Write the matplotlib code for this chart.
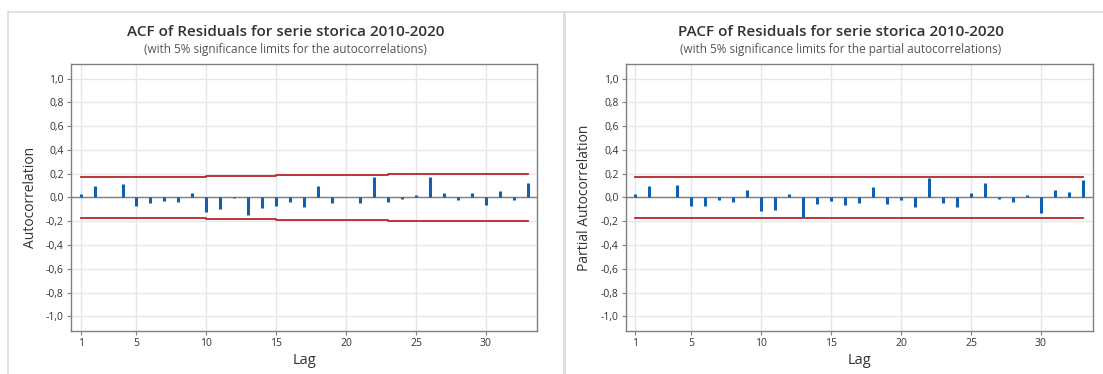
import matplotlib.pyplot as plt
from matplotlib.lines import Line2D
from matplotlib.ticker import FuncFormatter

lags = list(range(1, 34))
acf_vals = [0.03, 0.10, 0.008, 0.115, -0.07, -0.05, -0.03, -0.04, 0.04, -0.12,
            -0.095, -0.004, -0.15, -0.09, -0.07, -0.04, -0.08, 0.10, -0.045, 0.0,
            -0.05, 0.175, -0.04, -0.01, 0.02, 0.175, 0.04, -0.02, 0.035, -0.065,
            0.055, -0.025, 0.12]
acf_limit = [0.175] * 9 + [0.183] * 5 + [0.190] * 8 + [0.200] * 11

pacf_vals = [0.03, 0.10, 0.005, 0.105, -0.075, -0.07, -0.018, -0.04, 0.06, -0.11,
             -0.105, 0.03, -0.16, -0.055, -0.03, -0.06, -0.045, 0.09, -0.055, -0.025,
             -0.08, 0.16, -0.05, -0.08, 0.035, 0.125, -0.01, -0.035, 0.02, -0.13,
             0.065, 0.05, 0.15]
pacf_limit = [0.175] * 33

xticks = [1, 5, 10, 15, 20, 25, 30]
yticks = [-1.0, -0.8, -0.6, -0.4, -0.2, 0.0, 0.2, 0.4, 0.6, 0.8, 1.0]

BLUE = '#1060b0'
RED = '#b4262a'
FONT = 'Open Sans'

fig = plt.figure(figsize=(11.03, 3.74), dpi=100)
fig.patch.set_facecolor('white')


def draw_panel(ax, vals, lim, ylabel):
    ax.grid(True, color='#e6e6e6', linewidth=1.0, zorder=0)
    ax.axhline(0, color='#808080', linewidth=1.0, zorder=2)
    ax.vlines(lags, 0, vals, colors=BLUE, linewidth=2.2, zorder=3)
    ax.plot(lags, lim, color=RED, linewidth=1.3, zorder=4, drawstyle='steps-post')
    ax.plot(lags, [-v for v in lim], color=RED, linewidth=1.3, zorder=4, drawstyle='steps-post')
    ax.set_xlim(0.34, 33.69)
    ax.set_ylim(-1.12, 1.12)
    ax.set_xticks(xticks)
    ax.set_yticks(yticks)
    ax.yaxis.set_major_formatter(FuncFormatter(lambda v, p: ('%.1f' % v).replace('.', ',').replace('-0,0', '0,0')))
    for s in ax.spines.values():
        s.set_color('#808080')
        s.set_linewidth(1.0)
    ax.tick_params(length=3, pad=2.5, color='#808080', labelsize=7.5, labelcolor='#333333')
    for t in ax.get_xticklabels() + ax.get_yticklabels():
        t.set_fontfamily(FONT)
    ax.set_xlabel('Lag', fontsize=10.5, color='#333333', fontfamily=FONT, labelpad=3)
    ax.set_ylabel(ylabel, fontsize=10, color='#333333', fontfamily=FONT, labelpad=6)


ax1 = fig.add_axes([0.0647, 0.1158, 0.4226, 0.7123])
draw_panel(ax1, acf_vals, acf_limit, 'Autocorrelation')
ax2 = fig.add_axes([0.5677, 0.1158, 0.4228, 0.7123])
draw_panel(ax2, pacf_vals, pacf_limit, 'Partial Autocorrelation')

fig.text(285.5 / 1103, 1 - 32 / 374, 'ACF of Residuals for serie storica 2010-2020',
         ha='center', va='center', fontsize=11, fontweight='semibold', color='#333333', fontfamily=FONT)
fig.text(285.5 / 1103, 1 - 49 / 374, '(with 5% significance limits for the autocorrelations)',
         ha='center', va='center', fontsize=8.5, color='#555555', fontfamily=FONT)
fig.text(840.6 / 1103, 1 - 32 / 374, 'PACF of Residuals for serie storica 2010-2020',
         ha='center', va='center', fontsize=11, fontweight='semibold', color='#333333', fontfamily=FONT)
fig.text(840.6 / 1103, 1 - 49 / 374, '(with 5% significance limits for the partial autocorrelations)',
         ha='center', va='center', fontsize=8.5, color='#555555', fontfamily=FONT)

# panel borders
fig.add_artist(Line2D([8 / 1103, 1], [1 - 12 / 374] * 2, color='#dcdcdc', linewidth=1.2))
fig.add_artist(Line2D([8 / 1103] * 2, [0, 1 - 12 / 374], color='#dcdcdc', linewidth=1.2))
fig.add_artist(Line2D([563.5 / 1103] * 2, [0, 1 - 12 / 374], color='#dcdcdc', linewidth=2))

fig.savefig('out.png', dpi=100)
